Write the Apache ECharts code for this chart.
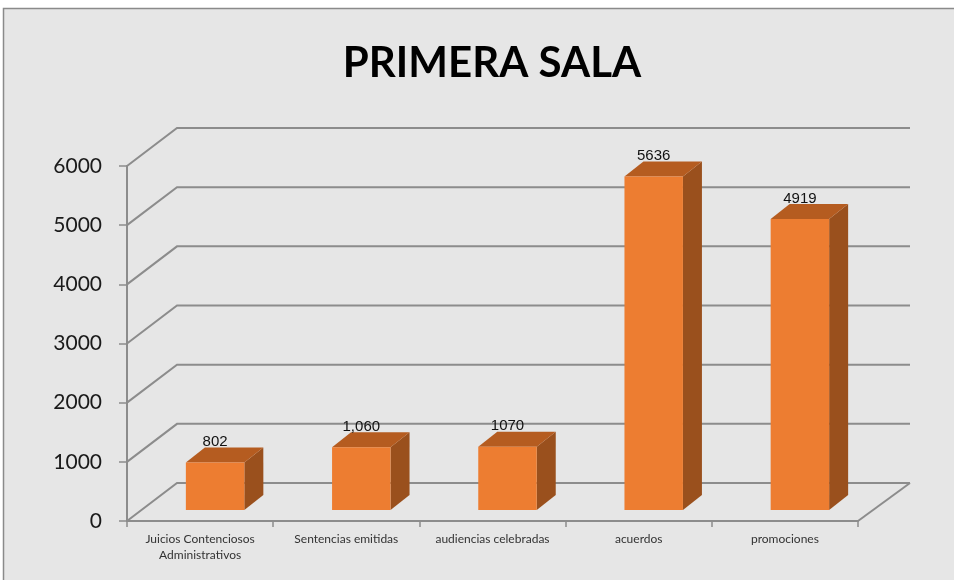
<!DOCTYPE html>
<html>
<head>
<meta charset="utf-8">
<script src="https://cdn.jsdelivr.net/npm/echarts@6/dist/echarts.min.js"></script>
<style>
  html, body { margin: 0; padding: 0; background: #fff; }
  #container { width: 954px; height: 580px; }
</style>
</head>
<body>
<div id="container"></div>
<script>
// datos de la grafica
var categories = ['Juicios Contenciosos\nAdministrativos', 'Sentencias emitidas', 'audiencias celebradas', 'acuerdos', 'promociones'];
var values = [802, 1060, 1070, 5636, 4919];
var valueLabels = ['802', '1,060', '1070', '5636', '4919'];
var yTicks = [0, 1000, 2000, 3000, 4000, 5000, 6000];

var dom = document.getElementById("container");
var myChart = echarts.init(dom);

// perspectiva del fondo y de las barras
var wallDx = 50, wallDy = -38;
var barOx = 15, barOy = -11;
var depthDx = 19, depthDy = -15;
var gridColor = '#8c8c8c';

var gridItem = function (params, api) {
    var cs = params.coordSys;
    var p = api.coord([0, api.value(0)]);
    var x0 = cs.x, y = p[1];
    var pts = [[x0, y], [x0 + wallDx, y + wallDy], [x0 + cs.width + wallDx + 2, y + wallDy]];
    var children = [{
        type: 'polyline',
        shape: { points: pts },
        style: { stroke: gridColor, lineWidth: 2, fill: null }
    }];
    if (api.value(0) === 0) {
        children.push({
            type: 'line',
            shape: { x1: x0 + cs.width, y1: y, x2: x0 + cs.width + wallDx + 2, y2: y + wallDy },
            style: { stroke: gridColor, lineWidth: 2 }
        });
    }
    return { type: 'group', children: children };
};

var barItem = function (params, api) {
    var idx = api.value(0);
    var base = api.coord([idx, 0]);
    var top = api.coord([idx, api.value(1)]);
    var bw = api.size([1, 0])[0] * 0.4;
    var x = base[0] - bw / 2 + barOx;
    var by = base[1] + barOy;
    var ty = top[1] + barOy;
    return {
        type: 'group',
        children: [
            {
                type: 'polygon',
                shape: { points: [[x + bw, ty], [x + bw + depthDx, ty + depthDy], [x + bw + depthDx, by + depthDy], [x + bw, by]] },
                style: { fill: '#9a501d' }
            },
            {
                type: 'polygon',
                shape: { points: [[x, ty], [x + bw, ty], [x + bw + depthDx, ty + depthDy], [x + depthDx, ty + depthDy]] },
                style: { fill: '#b55c20' }
            },
            {
                type: 'rect',
                shape: { x: x, y: ty, width: bw, height: by - ty },
                style: { fill: '#ed7d31' }
            },
            {
                type: 'text',
                x: x + bw / 2,
                y: ty + depthDy + 2,
                style: {
                    text: valueLabels[idx],
                    fill: '#111',
                    font: '15px "Liberation Sans", Arial, sans-serif',
                    align: 'center',
                    verticalAlign: 'bottom'
                }
            }
        ]
    };
};

var option = {
    backgroundColor: '#fff',
    animation: false,
    graphic: [{
        type: 'rect',
        z: -10,
        shape: { x: 3.5, y: 8.5, width: 980, height: 600 },
        style: { fill: '#e6e6e6', stroke: '#8a8a8a', lineWidth: 1.5 }
    }],
    title: {
        text: 'PRIMERA SALA',
        left: 487,
        top: 37,
        textAlign: 'center',
        textStyle: {
            fontFamily: 'Lato, sans-serif',
            fontWeight: 'bold',
            fontSize: 42,
            color: '#000'
        }
    },
    grid: {
        left: 127,
        top: 166,
        width: 731,
        height: 355,
        containLabel: false
    },
    xAxis: {
        type: 'category',
        data: categories,
        axisLine: { show: true, lineStyle: { color: gridColor, width: 2 } },
        axisTick: { show: true, interval: 0, length: 6, lineStyle: { color: gridColor, width: 1.5 } },
        axisLabel: {
            interval: 0,
            hideOverlap: false,
            fontFamily: 'Lato, sans-serif',
            fontSize: 12,
            color: '#333',
            lineHeight: 16,
            margin: 10
        },
        splitLine: { show: false }
    },
    yAxis: {
        type: 'value',
        min: 0,
        max: 6000,
        interval: 1000,
        axisLine: { show: true, lineStyle: { color: gridColor, width: 2 } },
        axisTick: { show: true, length: 8, lineStyle: { color: gridColor, width: 1.5 } },
        axisLabel: {
            fontFamily: 'Lato, sans-serif',
            fontSize: 21,
            color: '#1a1a1a',
            margin: 25,
            formatter: function (v) { return String(v); }
        },
        splitLine: { show: false }
    },
    series: [
        {
            type: 'custom',
            renderItem: gridItem,
            data: yTicks.map(function (v) { return [v]; }),
            z: 1,
            silent: true
        },
        {
            type: 'custom',
            renderItem: barItem,
            encode: { x: 0, y: 1 },
            data: values.map(function (v, i) { return [i, v]; }),
            z: 3
        }
    ]
};

if (option && typeof option === 'object') {
    myChart.setOption(option);
}
</script>
</body>
</html>
